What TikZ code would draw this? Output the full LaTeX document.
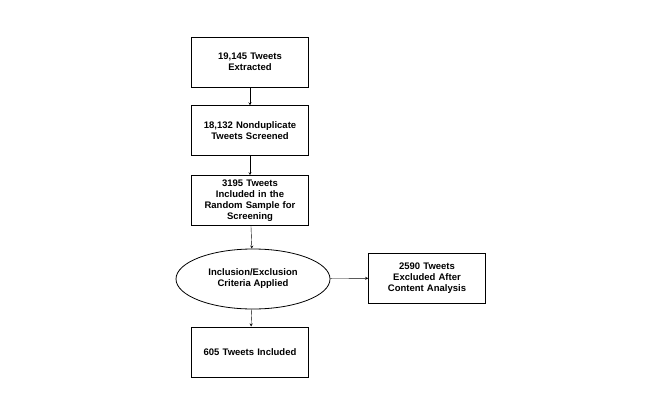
\documentclass[tikz,border=0pt]{standalone}
\usepackage{fontspec}
\setmainfont{Liberation Sans}
\usetikzlibrary{positioning, shapes.geometric}
\tikzset{
	stepbox/.style = {draw, thick, minimum width = 116pt, minimum height = 50pt, align = center, font = \bfseries\fontsize{9.5}{11}\selectfont, text width = 110pt},
	critnode/.style = {ellipse, draw, thick, minimum width = 154pt, minimum height = 60pt, align = center, font = \bfseries\fontsize{9.5}{11}\selectfont},
}
\begin{document}
\begin{tikzpicture}[x = 1pt, y = 1pt, >=stealth]
	\useasboundingbox (0, 0) rectangle (650, 405);
	\node[stepbox] (1) at (250, 343) {19,145 Tweets\\Extracted};
	\node[stepbox, below = 18pt of 1] (2) {18,132 Nonduplicate\\Tweets Screened};
	\node[stepbox, below = 19pt of 2] (3) {3195 Tweets\\Included in the\\Random Sample for\\Screening};
	\node[critnode] (4) at (253, 126) {Inclusion/Exclusion\\Criteria Applied};
	\node[stepbox] (5) at (427, 127) {2590 Tweets\\Excluded After\\Content Analysis};
	\node[stepbox] (6) at (250, 53) {605 Tweets Included};

	\draw[->]
		(1) edge (2)
		(2) edge (3)
		(3) edge (4)
		(4) edge (5)
		(4) edge (6);
\end{tikzpicture}
\end{document}
